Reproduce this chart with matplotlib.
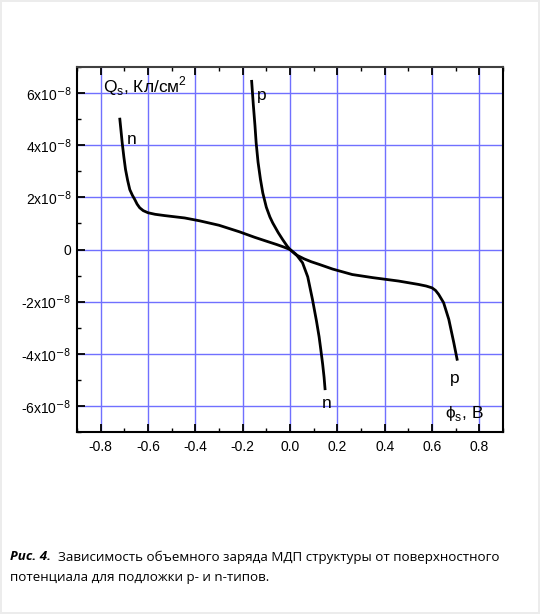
import matplotlib
matplotlib.use("Agg")
from matplotlib import pyplot as plt
from matplotlib.ticker import MultipleLocator, FuncFormatter

# curve for n-type substrate (phi_s in V, Q_s in units of 1e-8 C/cm^2)
n_phi = [-0.719, -0.714, -0.709, -0.702, -0.695, -0.686, -0.677, -0.666, -0.656,
         -0.646, -0.635, -0.620, -0.600, -0.570, -0.529, -0.445, -0.382, -0.300,
         -0.214, -0.150, -0.100, -0.056, -0.025, 0.0, 0.025, 0.053, 0.075, 0.095,
         0.112, 0.123, 0.130, 0.138, 0.144, 0.148]
n_qs = [5.00, 4.55, 4.09, 3.55, 3.07, 2.65, 2.30, 2.08, 1.92,
        1.74, 1.60, 1.49, 1.41, 1.35, 1.30, 1.21, 1.10, 0.93,
        0.68, 0.47, 0.32, 0.19, 0.09, 0.0, -0.18, -0.51, -1.05, -1.92,
        -2.75, -3.35, -3.83, -4.40, -4.90, -5.34]

# curve for p-type substrate
p_phi = [-0.162, -0.155, -0.148, -0.143, -0.135, -0.125, -0.115, -0.100, -0.085,
         -0.073, -0.050, -0.031, -0.012, 0.0, 0.025, 0.060, 0.090, 0.123, 0.180,
         0.263, 0.350, 0.459, 0.543, 0.575, 0.600, 0.615, 0.628, 0.649, 0.671,
         0.692, 0.706]
p_qs = [6.45, 5.55, 4.75, 4.09, 3.35, 2.70, 2.17, 1.62, 1.25,
        1.02, 0.65, 0.38, 0.13, 0.0, -0.20, -0.36, -0.47, -0.57, -0.75,
        -0.96, -1.08, -1.21, -1.34, -1.40, -1.47, -1.57, -1.72, -2.04, -2.68,
        -3.57, -4.21]

y_ticks = [-6, -4, -2, 0, 2, 4, 6]
x_ticks = [-0.8, -0.6, -0.4, -0.2, 0.0, 0.2, 0.4, 0.6, 0.8]

plt.rcParams['font.family'] = ['Liberation Sans', 'DejaVu Sans']

fig = plt.figure(figsize=(5.4, 6.14), dpi=100)
fig.patch.set_edgecolor('#ececec')
fig.patch.set_linewidth(1.5)
ax = fig.add_axes([77 / 540, 1 - 432 / 614, 426 / 540, 365 / 614])

ax.plot(n_phi, n_qs, color='black', lw=2.0, solid_joinstyle='round')
ax.plot(p_phi, p_qs, color='black', lw=2.0, solid_joinstyle='round')

ax.set_xlim(-0.9, 0.9)
ax.set_ylim(-7, 7)
ax.set_xticks(x_ticks)
ax.set_yticks(y_ticks)
ax.xaxis.set_minor_locator(MultipleLocator(0.1))
ax.yaxis.set_minor_locator(MultipleLocator(1))
ax.xaxis.set_major_formatter(FuncFormatter(lambda v, p: f"{v:.1f}"))


def ylab(v, pos):
    if abs(v) < 1e-9:
        return "0"
    return f"{int(v)}x10$^{{-8}}$"


ax.yaxis.set_major_formatter(FuncFormatter(ylab))
ax.tick_params(axis='x', which='both', direction='in', top=True, bottom=True,
               labelsize=10, pad=6)
ax.tick_params(axis='y', which='both', direction='in', left=True, right=False,
               labelsize=10, pad=4)
ax.tick_params(which='major', length=6, width=1.3)
ax.tick_params(which='minor', length=3, width=1.0)

ax.grid(True, which='major', color='#7070ff', lw=1.0)
ax.set_axisbelow(True)
for s in ax.spines.values():
    s.set_linewidth(1.5)
ax.spines['top'].set_color('#404040')

ax.text(-0.79, 6.25, "Q$_\\mathregular{s}$, Кл/см$^\\mathregular{2}$", fontsize=12.5,
        ha='left', va='center')
ax.text(-0.69, 4.2, "n", fontsize=12.5, ha='left', va='center')
ax.text(-0.14, 5.9, "p", fontsize=12.5, ha='left', va='center')
ax.text(0.675, -4.95, "p", fontsize=12.5, ha='left', va='center')
ax.text(0.135, -5.9, "n", fontsize=12.5, ha='left', va='center')
ax.text(0.655, -6.3, "ϕ$_\\mathregular{s}$, В", fontsize=12.5, ha='left', va='center')

cap_font = ['Open Sans', 'DejaVu Sans']
fig.text(10 / 540, 1 - 557 / 614, "Рис. 4.", fontsize=9.6, fontweight='bold',
         style='italic', family=cap_font, va='center')
fig.text(58 / 540, 1 - 557 / 614,
         "Зависимость объемного заряда МДП структуры от поверхностного",
         fontsize=9.6, family=cap_font, va='center')
fig.text(10 / 540, 1 - 578 / 614, "потенциала для подложки p- и n-типов.",
         fontsize=9.6, family=cap_font, va='center')

fig.savefig("out.png", dpi=100)
